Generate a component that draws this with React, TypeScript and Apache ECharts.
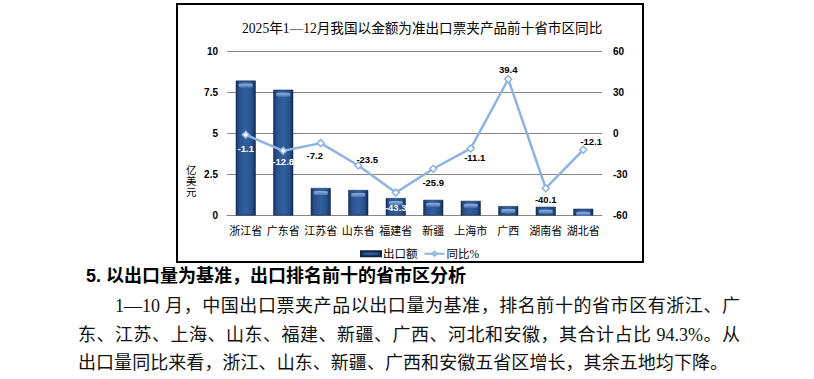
import React, { useEffect, useRef } from "react";
import * as echarts from "echarts";

const categories = ["浙江省", "广东省", "江苏省", "山东省", "福建省", "新疆", "上海市", "广西", "湖南省", "湖北省"];
const exportValues = [8.2, 7.65, 1.67, 1.55, 1.06, 0.95, 0.89, 0.57, 0.53, 0.41];
const yoyValues = [-1.1, -12.8, -7.2, -23.5, -43.3, -25.9, -11.1, 39.4, -40.1, -12.1];
const leftTicks = { min: 0, max: 10, interval: 2.5 };
const rightTicks = { min: -60, max: 60, interval: 30 };

const titleText = "2025年1—12月我国以金额为准出口票夹产品前十省市区同比";
const headingText = "5. 以出口量为基准，出口排名前十的省市区分析";
const paraLines = [
  "1—10 月，中国出口票夹产品以出口量为基准，排名前十的省市区有浙江、广",
  "东、江苏、上海、山东、福建、新疆、广西、河北和安徽，其合计占比 94.3%。从",
  "出口量同比来看，浙江、山东、新疆、广西和安徽五省区增长，其余五地均下降。",
];

// label placement per point (style only)
const labelPlacement: any[] = [
  { position: "bottom", distance: 4, offset: [0, 0], color: "#fff" },
  { position: "bottom", distance: 1, offset: [0, 0], color: "#fff" },
  { position: "bottom", distance: 3, offset: [-6, 0], color: "#000" },
  { position: "top", distance: 0, offset: [9, 3], color: "#000" },
  { position: "bottom", distance: 6, offset: [0, 0], color: "#fff" },
  { position: "bottom", distance: 4, offset: [0, 0], color: "#000" },
  { position: "bottom", distance: 0, offset: [4, 0], color: "#000" },
  { position: "top", distance: 0, offset: [0, 0], color: "#000" },
  { position: "bottom", distance: 2, offset: [0, 0], color: "#000" },
  { position: "top", distance: 0, offset: [8, 1], color: "#000" },
];

const serif = "'Liberation Serif', 'Noto Sans CJK SC', serif";
const sansBold = "'Liberation Sans', Arial, sans-serif";

function Chart() {
  const ref = useRef<HTMLDivElement>(null);
  useEffect(() => {
    if (!ref.current) return;
    const chart = echarts.init(ref.current, undefined, { renderer: "svg" });
    const barGrad = new echarts.graphic.LinearGradient(0, 0, 1, 0, [
      { offset: 0, color: "#18335f" },
      { offset: 0.18, color: "#2a5290" },
      { offset: 0.5, color: "#31609f" },
      { offset: 0.82, color: "#27508b" },
      { offset: 1, color: "#132b52" },
    ]);
    const capGrad = new echarts.graphic.LinearGradient(0, 0, 0, 1, [
      { offset: 0, color: "#8fb0dc" },
      { offset: 1, color: "#4f78b4" },
    ]);
    chart.setOption({
      animation: false,
      title: {
        text: titleText,
        left: 237,
        top: 17,
        textStyle: { fontFamily: serif, fontSize: 13.6, fontWeight: "normal", color: "#000" },
      },
      legend: {
        left: 355,
        top: 243,
        itemWidth: 20,
        itemHeight: 5,
        itemGap: 6,
        data: [
          { name: "出口额", icon: "rect" },
          { name: "同比%" },
        ],
        textStyle: { fontFamily: serif, fontSize: 11.5, color: "#000", padding: [0, 0, 0, -3] },
      },
      grid: { left: 227, right: 212, top: 51, bottom: 49.5 },
      xAxis: {
        type: "category",
        data: categories,
        axisLine: { show: true, lineStyle: { color: "#868686", width: 1 } },
        axisTick: { show: false },
        axisLabel: { fontFamily: serif, fontSize: 11, color: "#000", margin: 10, interval: 0 },
      },
      yAxis: [
        {
          type: "value",
          ...leftTicks,
          axisLine: { show: false },
          axisTick: { show: false },
          axisLabel: { fontFamily: sansBold, fontSize: 10, fontWeight: "bold", color: "#000", margin: 9 },
          splitLine: { lineStyle: { color: "#868686", width: 1 } },
        },
        {
          type: "value",
          position: "right",
          ...rightTicks,
          axisLine: { show: false },
          axisTick: { show: false },
          axisLabel: { fontFamily: sansBold, fontSize: 10, fontWeight: "bold", color: "#000", margin: 11 },
          splitLine: { show: false },
        },
      ],
      graphic: [
        {
          type: "text",
          x: 186,
          y: 165,
          style: {
            text: "亿\n美\n元",
            fontFamily: serif,
            fontSize: 10.5,
            lineHeight: 11,
            fill: "#000",
          },
        },
      ],
      series: [
        {
          name: "出口额",
          type: "bar",
          data: exportValues,
          barWidth: 20,
          itemStyle: { color: barGrad, borderColor: "#0f2444", borderWidth: 0.5 },
          z: 2,
        },
        {
          name: "cap",
          type: "pictorialBar",
          data: exportValues,
          symbol: "roundRect",
          symbolSize: [14, 4],
          symbolPosition: "end",
          symbolOffset: [0, 3],
          itemStyle: { color: capGrad },
          silent: true,
          z: 3,
        },
        {
          name: "同比%",
          type: "line",
          yAxisIndex: 1,
          data: yoyValues.map((v, i) => ({
            value: v,
            label: {
              show: true,
              position: labelPlacement[i].position,
              distance: labelPlacement[i].distance,
              offset: labelPlacement[i].offset,
              color: labelPlacement[i].color,
            },
          })),
          label: {
            show: true,
            fontFamily: sansBold,
            fontSize: 9.5,
            fontWeight: "bold",
            formatter: (p: any) => String(p.value),
          },
          lineStyle: { color: "#8db3e2", width: 2.5 },
          itemStyle: { color: "#ffffff", borderColor: "#8db3e2", borderWidth: 1.5 },
          symbol: "diamond",
          symbolSize: 7,
          z: 5,
        },
      ],
    });
    return () => chart.dispose();
  }, []);
  return <div ref={ref} style={{ position: "absolute", left: 0, top: 0, width: 814, height: 265 }} />;
}

export default function App() {
  const lineBase: React.CSSProperties = {
    position: "absolute",
    whiteSpace: "nowrap",
    fontFamily: serif,
    fontSize: 18,
    lineHeight: "18px",
    color: "#111",
  };
  return (
    <div style={{ position: "absolute", left: 0, top: 0, width: 814, height: 379, background: "#fff", overflow: "hidden" }}>
      <div
        style={{
          position: "absolute",
          left: 176,
          top: 3,
          width: 468,
          height: 260,
          border: "2px solid #000",
          boxSizing: "border-box",
        }}
      />
      <Chart />
      <div
        style={{
          position: "absolute",
          left: 86,
          top: 267,
          whiteSpace: "nowrap",
          fontFamily: "'Liberation Sans', 'Noto Sans CJK SC', sans-serif",
          fontWeight: "bold",
          fontSize: 18,
          lineHeight: "18px",
          color: "#000",
        }}
      >
        {headingText}
      </div>
      <div style={{ ...lineBase, left: 115, top: 297, width: 625, textAlign: "justify", textAlignLast: "justify" }}>
        {paraLines[0]}
      </div>
      <div style={{ ...lineBase, left: 78, top: 326, width: 662, textAlign: "justify", textAlignLast: "justify" }}>
        {paraLines[1]}
      </div>
      <div style={{ ...lineBase, left: 78, top: 354, width: 650, textAlign: "justify", textAlignLast: "justify" }}>
        {paraLines[2]}
      </div>
    </div>
  );
}
